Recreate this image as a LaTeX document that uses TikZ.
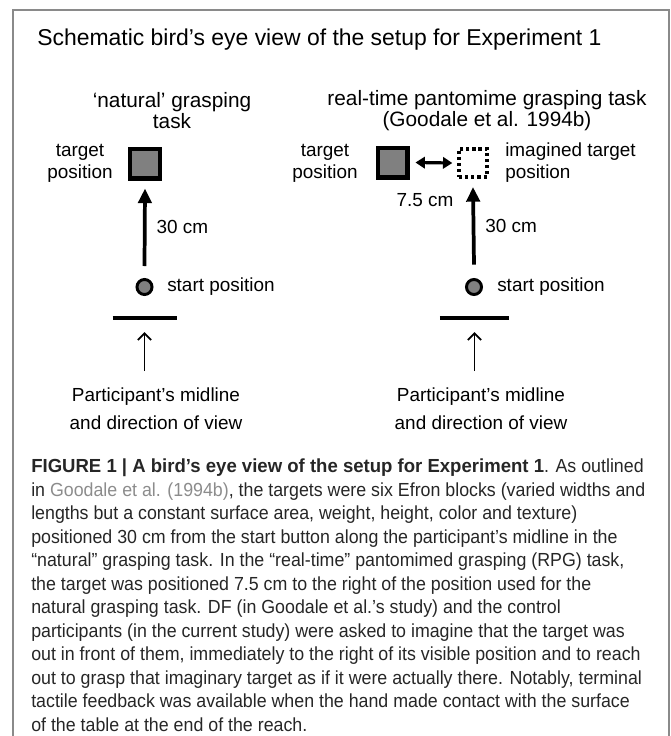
\documentclass[tikz,border=0pt]{standalone}
\usepackage{fontspec}
\setmainfont{Liberation Sans}
\newfontfamily\capfont[FakeStretch=0.94]{Liberation Sans}
\newfontfamily\capbold[FakeStretch=0.98]{Liberation Sans Bold}
\usetikzlibrary{arrows.meta,positioning}

\definecolor{framegray}{HTML}{8A8A8A}
\definecolor{blockgray}{HTML}{808080}
\definecolor{linkgray}{HTML}{8C8C8C}
\definecolor{captext}{HTML}{262626}

\tikzset{
  title/.style={font=\fontsize{17.2}{20}\selectfont, inner sep=0pt, anchor=west},
  head/.style={font=\fontsize{15.6}{15.5}\selectfont, inner sep=0pt, align=center},
  lbl/.style={font=\fontsize{14.2}{16.5}\selectfont, inner sep=0pt},
  viewlbl/.style={font=\fontsize{14.2}{21}\selectfont, inner sep=0pt, align=center},
  block/.style={draw, line width=3.2pt, fill=blockgray, minimum size=22.3pt, inner sep=0pt},
  ghost/.style={draw, line width=3pt, dash pattern=on 2.4pt off 2.2pt, minimum size=21pt, inner sep=0pt},
  startbtn/.style={circle, draw, line width=2.2pt, fill=blockgray, minimum size=11.3pt, inner sep=0pt},
  reach/.style={line width=2.8pt, -{Triangle[width=10pt,length=11pt]}},
  offsetarrow/.style={line width=2.4pt, {Triangle[width=8.5pt,length=7pt]}-{Triangle[width=8.5pt,length=7pt]}},
  desk/.style={line width=3pt},
  gazearrow/.style={line width=1.4pt, -{Straight Barb[length=5pt,width=10pt]}},
  caption/.style={font=\capfont\fontsize{14.2}{17.6}\selectfont, text=captext, inner sep=0pt, align=left},
}

\begin{document}
\begin{tikzpicture}[x=0.75pt, y=-0.75pt]
  \useasboundingbox (0,0) rectangle (671,736);
  % frame round the figure
  \draw[framegray, line width=1.1pt] (13,745) -- (13,10) -- (669,10) -- (669,745);

  \node[title] (title) at (37,40) {Schematic bird’s eye view of the setup for Experiment 1};

  % natural grasping task
  \node[head] (headL) at (172,110.5) {‘natural’ grasping\\task};
  \node[block] (tgtL) at (145,163.5) {};
  \node[lbl, align=center] (tgtlabL) at (80,163) {target\\position};
  \node[startbtn] (startL) at (144.5,287) {};
  \node[lbl, anchor=west] (startlabL) at (167,287) {start position};
  \draw[reach] ([yshift=9pt]startL.north) -- ([yshift=-6pt]tgtL.south)
    node[lbl, midway, anchor=west, xshift=7.5pt] (distL) {30 cm};
  \coordinate (deskL) at (144.5,318);
  \draw[desk] ([xshift=-24pt]deskL) -- ([xshift=24pt]deskL);
  \node[viewlbl] (midL) at (156,409) {Participant’s midline\\and direction of view};
  \coordinate (eyeL) at (144.5,371);
  \draw[gazearrow] (eyeL) -- ([yshift=-10.5pt]deskL);

  % pantomime grasping task
  \node[head] (headR) at (487,110.5) {real-time pantomime grasping task\\(Goodale et al. 1994b)};
  \node[block] (tgtR) at (392.5,162.5) {};
  \node[lbl, align=center] (tgtlabR) at (325,163) {target\\position};
  \node[ghost] (imgR) at (473,163) {};
  \node[lbl, align=left, anchor=west] (imglabR) at (505,163) {imagined target\\position};
  \draw[offsetarrow] ([xshift=4.5pt]tgtR.east) -- ([xshift=-3.5pt]imgR.west);
  \node[lbl] (offR) at (425,200) {7.5 cm};
  \node[startbtn] (startR) at (474,287) {};
  \node[lbl, anchor=west] (startlabR) at (497,287) {start position};
  \draw[reach] ([yshift=10pt]startR.north) -- ([yshift=-6pt]imgR.south)
    node[lbl, midway, anchor=west, xshift=7.5pt] (distR) {30 cm};
  \coordinate (deskR) at (474.5,318);
  \draw[desk] ([xshift=-26pt]deskR) -- ([xshift=26pt]deskR);
  \node[viewlbl] (midR) at (481,409) {Participant’s midline\\and direction of view};
  \coordinate (eyeR) at (474.5,371);
  \draw[gazearrow] (eyeR) -- ([yshift=-10.5pt]deskR);

  % caption
  \node[caption, anchor=north west] (cap) at (31,459) {%
    {\capbold FIGURE 1 | A bird’s eye view of the setup for Experiment 1}. As outlined\\
    in {\color{linkgray}Goodale et al. (1994b)}, the targets were six Efron blocks (varied widths and\\
    lengths but a constant surface area, weight, height, color and texture)\\
    positioned 30 cm from the start button along the participant’s midline in the\\
    “natural” grasping task. In the “real-time” pantomimed grasping (RPG) task,\\
    the target was positioned 7.5 cm to the right of the position used for the\\
    natural grasping task. DF (in Goodale et al.’s study) and the control\\
    participants (in the current study) were asked to imagine that the target was\\
    out in front of them, immediately to the right of its visible position and to reach\\
    out to grasp that imaginary target as if it were actually there. Notably, terminal\\
    tactile feedback was available when the hand made contact with the surface\\
    of the table at the end of the reach.};
\end{tikzpicture}
\end{document}
